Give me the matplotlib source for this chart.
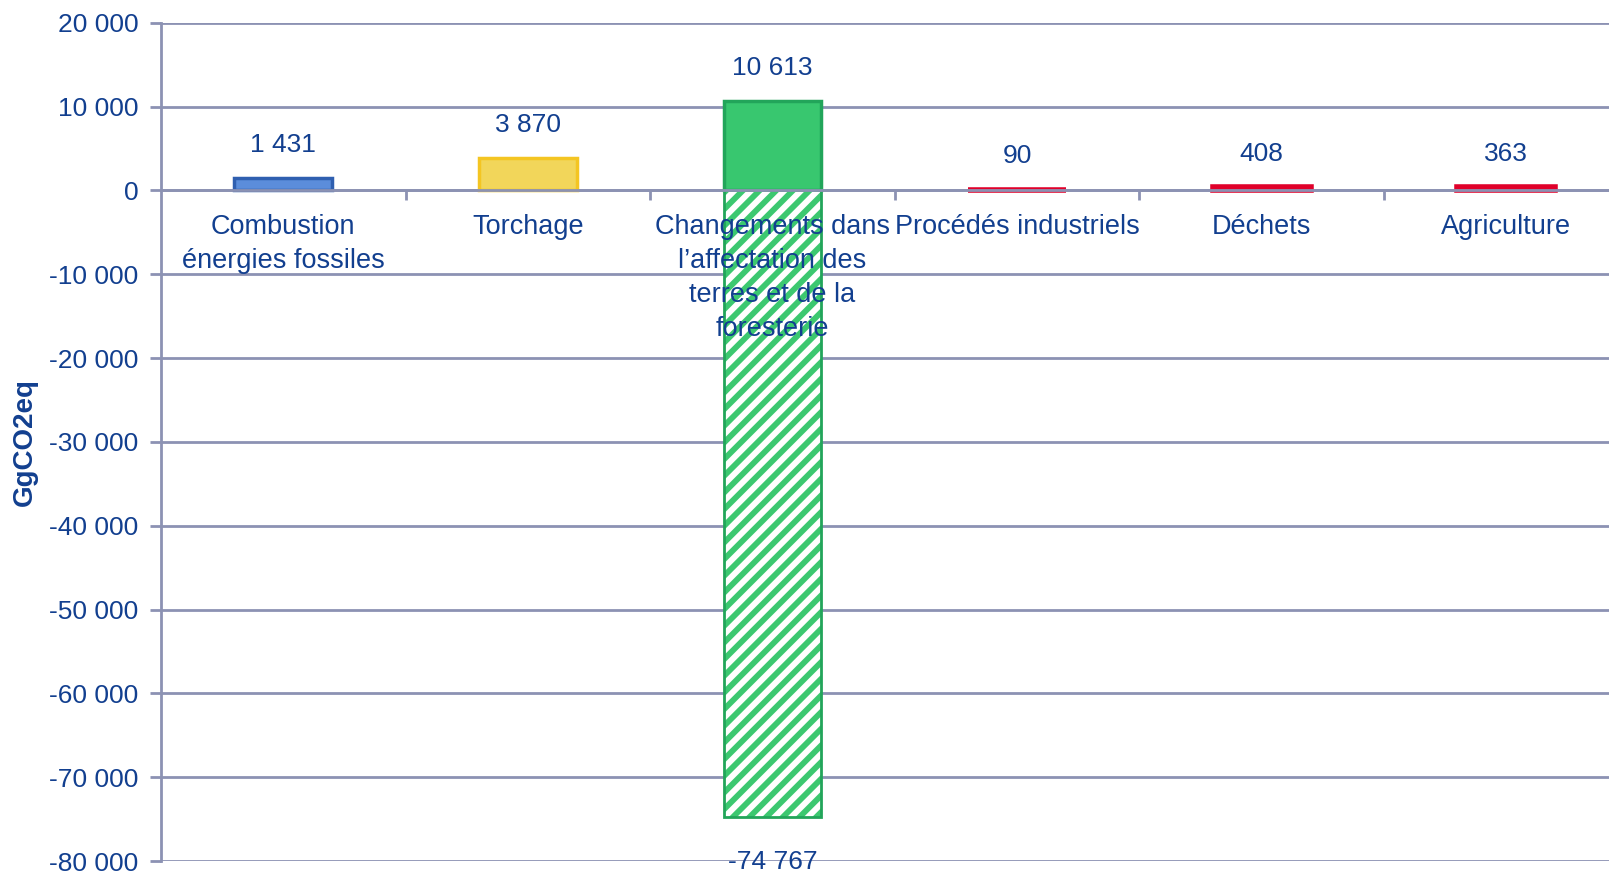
import numpy as np
import matplotlib
matplotlib.use('Agg')
import matplotlib.pyplot as plt
from matplotlib.ticker import FuncFormatter

plt.rcParams['font.family'] = ['Liberation Sans', 'DejaVu Sans']
plt.rcParams['hatch.linewidth'] = 4.2

# data
categories = ['Combustion\nénergies fossiles', 'Torchage',
              'Changements dans\nl\u2019affectation des\nterres et de la\nforesterie',
              'Procédés industriels', 'Déchets', 'Agriculture']
emissions = [1431, 3870, 10613, 90, 408, 363]
absorption = [0, 0, -74767, 0, 0, 0]
bar_colors = ['#5b8ddb', '#f2d65a', '#38c76f', '#e0002a', '#e0002a', '#e0002a']
edge_colors = ['#2f5fb0', '#f4c522', '#22a55a', '#e0002a', '#e0002a', '#e0002a']
edge_widths = [2.5, 2.5, 2.5, 4, 4, 4]

txt = '#123f8f'
gridc = '#8c92b3'

def fmt(v):
    return f'{int(v):,}'.replace(',', ' ')

fig = plt.figure(figsize=(16.09, 8.75), dpi=100)
ax = fig.add_axes([0.1, 0.016, 0.9, 0.958])

x = np.arange(len(categories))
ax.bar(x, emissions, width=0.4, color=bar_colors, edgecolor=edge_colors, linewidth=edge_widths, zorder=3)

# negative (hatched) part
neg = np.array(absorption)
idx = np.nonzero(neg)[0]
ax.bar(x[idx], neg[idx], width=0.4, color='white', edgecolor='#3cc870', hatch='//', linewidth=0, zorder=3)
ax.bar(x[idx], neg[idx], width=0.4, fill=False, edgecolor='#22a55a', linewidth=2, zorder=4)

# value labels
for i, v in enumerate(emissions):
    ax.annotate(fmt(v), (x[i], v), xytext=(0, 24), textcoords='offset points',
                ha='center', va='center', fontsize=19, color=txt, zorder=7)
for i in idx:
    ax.annotate(fmt(neg[i]), (x[i], neg[i]), xytext=(0, -32), textcoords='offset points',
                ha='center', va='center', fontsize=19, color=txt, zorder=7)

# category labels just under the zero line, drawn over the bars
for i, c in enumerate(categories):
    ax.annotate(c, (x[i], 0), xytext=(0, -17), textcoords='offset points',
                ha='center', va='top', fontsize=19.5, color=txt, linespacing=1.4, zorder=7)

ax.set_xlim(-0.5, 5.42)
ax.set_ylim(-80000, 20000)
ax.set_yticks(np.arange(-80000, 20001, 10000))
ax.yaxis.set_major_formatter(FuncFormatter(lambda v, p: fmt(v)))
ax.tick_params(axis='y', labelsize=19, labelcolor=txt, color=gridc, length=8, width=2, pad=8)
ax.yaxis.grid(True, color=gridc, linewidth=2, zorder=0)

# category axis at zero
ax.spines['bottom'].set_position(('data', 0))
ax.spines['bottom'].set_color(gridc)
ax.spines['bottom'].set_linewidth(2)
ax.spines['bottom'].set_zorder(5)
ax.spines['left'].set_color(gridc)
ax.spines['left'].set_linewidth(2)
ax.spines['top'].set_visible(False)
ax.spines['right'].set_visible(False)
ax.set_xticks(np.arange(0.5, len(categories) - 1, 1.0))
ax.set_xticklabels([])
ax.tick_params(axis='x', color=gridc, length=7, width=2, direction='out')

ax.set_ylabel('GgCO2eq', fontsize=20, fontweight='bold', color=txt, labelpad=8)

fig.savefig('out.png', dpi=100)
